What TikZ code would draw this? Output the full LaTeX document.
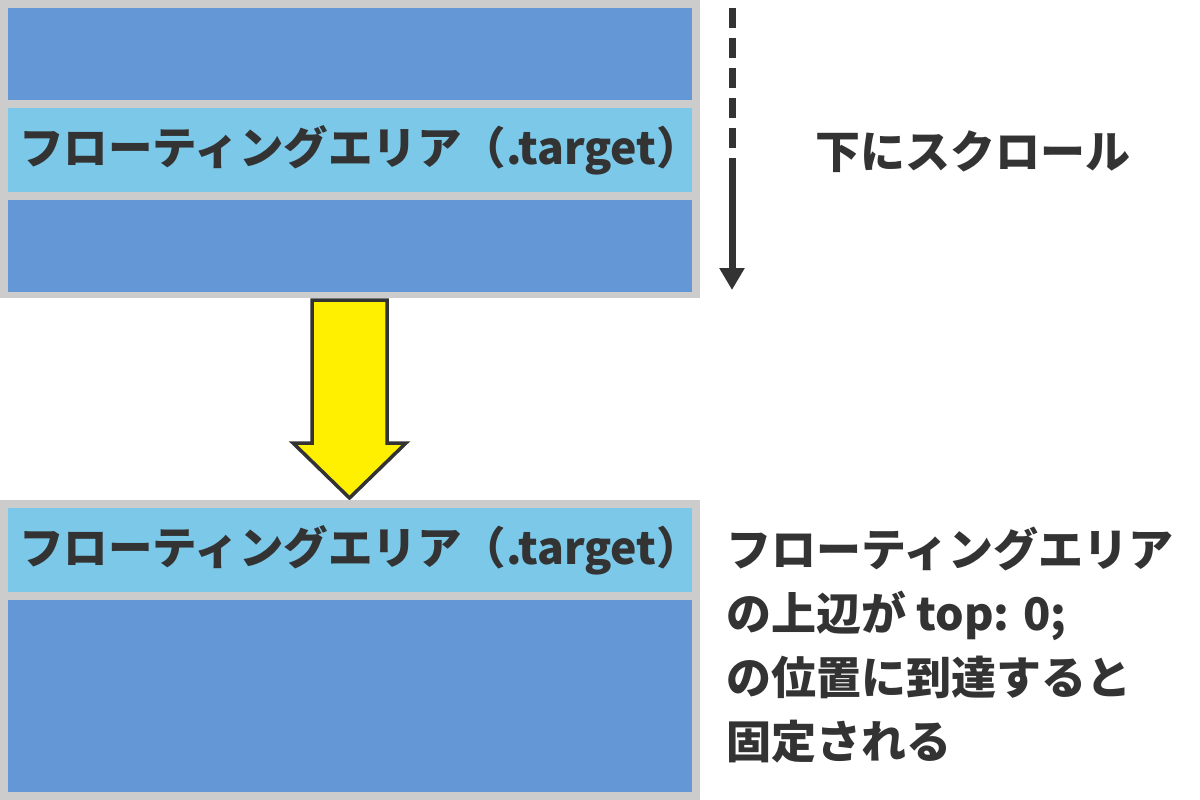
\documentclass[tikz,border=0pt]{standalone}
\usepackage{fontspec}
\usetikzlibrary{positioning, arrows.meta}
\newfontfamily\jpfont{Noto Sans CJK JP}
\definecolor{bandblue}{RGB}{100, 151, 213}
\definecolor{floatblue}{RGB}{124, 200, 232}
\definecolor{framegray}{RGB}{204, 204, 204}
\definecolor{inkgray}{RGB}{51, 51, 51}
\definecolor{signyellow}{RGB}{255, 240, 0}

\begin{document}
\begin{tikzpicture}[x=1pt, y=-1pt,
                frame/.style={fill=framegray, inner sep=0pt, anchor=north west,
                    minimum width=700pt},
                band/.style={fill=bandblue, inner sep=0pt, anchor=north west,
                    minimum width=684pt},
                floatband/.style={band, fill=floatblue, text width=670pt,
                    inner xsep=7pt, align=left, text=inkgray,
                    font=\jpfont\bfseries\fontsize{44.5}{64}\selectfont},
                jptext/.style={inner sep=0pt, text=inkgray, align=left,
                    font=\jpfont\bfseries\fontsize{45}{64}\selectfont},
                scrollline/.style={draw=inkgray, line width=7pt}
            ]
            \useasboundingbox (0, 0) rectangle (1200, 800);

            % before scrolling
            \node[frame, minimum height=298pt] (topframe) at (0, 0) {};
            \node[band, minimum height=92pt] (topupper) at (8, 8) {};
            \node[floatband, minimum height=84pt] (topfloat) at (8, 108)
                {\hspace*{4pt}フローティングエリア（.target）};
            \node[band, minimum height=92pt] (toplower) at (8, 200) {};

            \coordinate (scrolltop) at (732, 8);
            \coordinate (scrollmid) at (732, 158);
            \coordinate (scrollend) at (732, 290);
            \draw[scrollline, dash pattern=on 20pt off 10pt] (scrolltop) -- (scrollmid);
            \draw[scrollline, -{Triangle[width=24pt, length=22pt]}] (scrollmid) -- (scrollend);
            \node[jptext] (scrollnote) at (973, 152) {下にスクロール};

            % yellow arrow
            \draw[fill=signyellow, draw=inkgray, line width=3.5pt, line join=miter]
                (312, 300) -- (387, 300) -- (387, 443) -- (406, 443) -- (349.5, 498)
                -- (293, 443) -- (312, 443) -- cycle;

            % after scrolling
            \node[frame, minimum height=300pt] (botframe) at (0, 500) {};
            \node[floatband, minimum height=84pt] (botfloat) at (8, 508)
                {\hspace*{4pt}フローティングエリア（.target）};
            \node[band, minimum height=192pt] (botlower) at (8, 600) {};

            \node[jptext, anchor=north west] (fixnote) at (726, 527)
                {フローティングエリア\\
                 の上辺が top: 0;\\
                 の位置に到達すると\\
                 固定される};

            \end{tikzpicture}
\end{document}
